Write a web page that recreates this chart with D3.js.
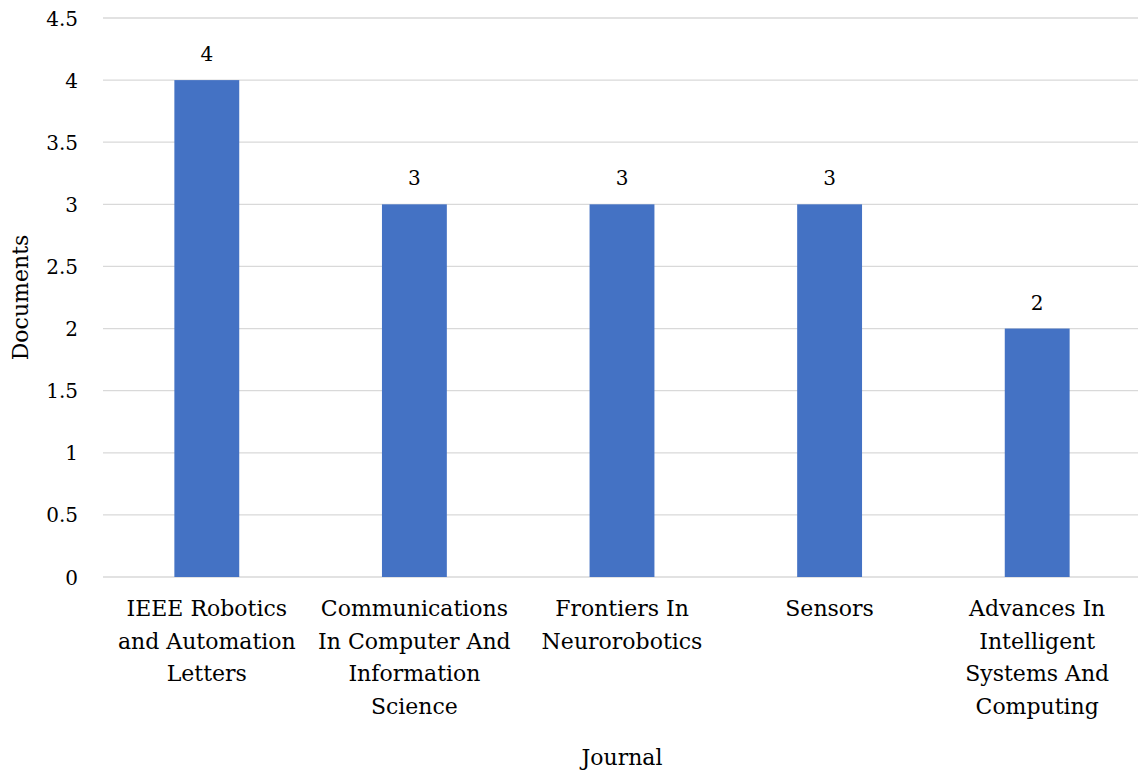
<!DOCTYPE html>
<html>
<head>
<meta charset="utf-8">
<script src="https://cdn.jsdelivr.net/npm/d3@7"></script>
<style>
  body { margin: 0; background: #fff; }
  text { font-family: "DejaVu Serif", serif; fill: #000; }
</style>
</head>
<body>
<script>
// chart data
const journals = [
    ["IEEE Robotics", "and Automation", "Letters"],
    ["Communications", "In Computer And", "Information", "Science"],
    ["Frontiers In", "Neurorobotics"],
    ["Sensors"],
    ["Advances In", "Intelligent", "Systems And", "Computing"]
];
const documents = [4, 3, 3, 3, 2];
const yTicks = [0, 0.5, 1, 1.5, 2, 2.5, 3, 3.5, 4, 4.5];

const W = 1138, H = 773;
const margin = {top: 18, right: -3, bottom: 196, left: 103},
    width = W - margin.left - margin.right,
    height = H - margin.top - margin.bottom;

const fs = "20px", fsL = "22px";

const svg = d3.select("body").append("svg")
    .attr("width", W)
    .attr("height", H)
    .append("g")
    .attr("transform", `translate(${margin.left},${margin.top})`);

const keys = journals.map((d, i) => i);

const x = d3.scaleBand()
    .domain(keys)
    .range([0, width])
    .padding(0);

const y = d3.scaleLinear()
    .domain([0, 4.5])
    .range([height, 0]);

const barW = x.bandwidth() * 0.3125;

// gridlines
svg.append("g")
    .selectAll("line")
    .data(yTicks)
    .enter()
    .append("line")
    .attr("x1", 0)
    .attr("x2", width)
    .attr("y1", d => y(d))
    .attr("y2", d => y(d))
    .attr("stroke", "#d9d9d9")
    .attr("stroke-width", 1.3);

// y axis tick labels
const yAxis = svg.append("g")
    .attr("transform", "translate(-25,0)")
    .call(d3.axisLeft(y).tickValues(yTicks).tickSize(0).tickPadding(0).tickFormat(d3.format("")));
yAxis.select(".domain").remove();
yAxis.attr("font-family", null);
yAxis.selectAll("text")
    .style("font-family", "DejaVu Serif, serif")
    .style("font-size", fs)
    .attr("dy", "0.35em");

// bars
svg.selectAll("rect.bar")
    .data(documents)
    .enter()
    .append("rect")
    .attr("class", "bar")
    .attr("x", (d, i) => x(i) + (x.bandwidth() - barW) / 2)
    .attr("y", d => y(d))
    .attr("width", barW)
    .attr("height", d => height - y(d))
    .attr("fill", "#4472c4");

// value labels
svg.selectAll("text.val")
    .data(documents)
    .enter()
    .append("text")
    .attr("class", "val")
    .attr("x", (d, i) => x(i) + x.bandwidth() / 2)
    .attr("y", d => y(d) - 19)
    .attr("text-anchor", "middle")
    .style("font-size", fs)
    .text(d => d);

// category labels
const cat = svg.selectAll("text.cat")
    .data(journals)
    .enter()
    .append("text")
    .attr("class", "cat")
    .attr("text-anchor", "middle")
    .attr("transform", (d, i) => `translate(${x(i) + x.bandwidth() / 2},${height + 39})`)
    .style("font-size", fsL);
cat.selectAll("tspan")
    .data(d => d)
    .enter()
    .append("tspan")
    .attr("x", 0)
    .attr("y", (d, j) => j * 32.5)
    .text(d => d);

// X axis label
svg.append("text")
    .attr("text-anchor", "middle")
    .attr("x", width / 2)
    .attr("y", height + margin.bottom - 8)
    .style("font-size", fsL)
    .text("Journal");

// Y axis label
svg.append("text")
    .attr("text-anchor", "middle")
    .attr("transform", "rotate(-90)")
    .attr("y", -margin.left + 28)
    .attr("x", -(y(2.25)))
    .style("font-size", fsL)
    .text("Documents");
</script>
</body>
</html>
